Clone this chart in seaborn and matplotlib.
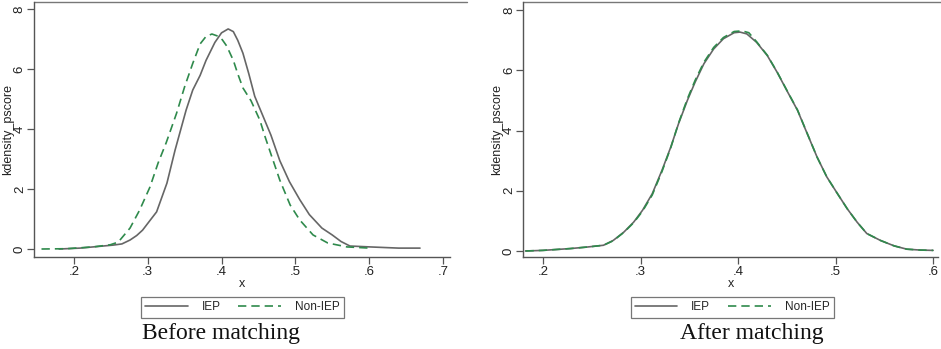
import numpy as np
import pandas as pd
import matplotlib
matplotlib.use("Agg")
import matplotlib.pyplot as plt
import seaborn as sns

# ---- data: kernel density of the propensity score ----
before_iep_x = [0.180, 0.208, 0.253, 0.265, 0.276, 0.285, 0.293, 0.302, 0.312, 0.326,
                0.337, 0.352, 0.361, 0.371, 0.379, 0.391, 0.400, 0.409, 0.416, 0.422,
                0.429, 0.437, 0.445, 0.456, 0.467, 0.479, 0.492, 0.506, 0.519, 0.536,
                0.550, 0.562, 0.574, 0.601, 0.640, 0.669]
before_iep_y = [0.00, 0.03, 0.13, 0.17, 0.30, 0.45, 0.63, 0.92, 1.24, 2.20,
                3.30, 4.64, 5.31, 5.80, 6.30, 6.90, 7.22, 7.35, 7.26, 6.97,
                6.54, 5.85, 5.10, 4.45, 3.80, 2.95, 2.25, 1.65, 1.15, 0.70,
                0.47, 0.25, 0.10, 0.07, 0.03, 0.03]

before_non_x = [0.156, 0.190, 0.226, 0.249, 0.260, 0.276, 0.289, 0.303, 0.314, 0.325,
                0.339, 0.350, 0.361, 0.371, 0.379, 0.387, 0.395, 0.401, 0.407, 0.416,
                0.422, 0.429, 0.440, 0.452, 0.459, 0.466, 0.479, 0.493, 0.506, 0.524,
                0.544, 0.570, 0.601]
before_non_y = [0.00, 0.01, 0.07, 0.14, 0.23, 0.70, 1.30, 2.07, 2.87, 3.55,
                4.53, 5.42, 6.20, 6.85, 7.10, 7.18, 7.11, 6.99, 6.78, 6.30,
                5.85, 5.38, 4.95, 4.30, 3.75, 3.24, 2.30, 1.47, 0.97, 0.47,
                0.20, 0.07, 0.03]

after_iep_x = [0.182, 0.200, 0.228, 0.245, 0.262, 0.272, 0.283, 0.293, 0.302, 0.312,
               0.322, 0.331, 0.339, 0.348, 0.356, 0.365, 0.375, 0.385, 0.396, 0.402,
               0.409, 0.419, 0.430, 0.440, 0.450, 0.461, 0.471, 0.481, 0.491, 0.502,
               0.512, 0.522, 0.532, 0.546, 0.560, 0.573, 0.587, 0.600]
after_iep_y = [0.00, 0.02, 0.08, 0.13, 0.19, 0.35, 0.63, 0.96, 1.35, 1.90,
               2.68, 3.45, 4.23, 5.00, 5.61, 6.22, 6.71, 7.05, 7.25, 7.27,
               7.21, 6.93, 6.49, 5.94, 5.33, 4.67, 3.89, 3.12, 2.46, 1.90,
               1.40, 0.96, 0.58, 0.35, 0.17, 0.06, 0.03, 0.02]

after_non_x = [0.182, 0.200, 0.228, 0.245, 0.262, 0.272, 0.283, 0.293, 0.302, 0.312,
               0.322, 0.331, 0.339, 0.348, 0.356, 0.365, 0.375, 0.385, 0.396, 0.404,
               0.411, 0.419, 0.430, 0.440, 0.450, 0.461, 0.471, 0.481, 0.491, 0.502,
               0.512, 0.522, 0.532, 0.546, 0.560, 0.573, 0.587, 0.600]
after_non_y = [0.00, 0.02, 0.08, 0.13, 0.19, 0.34, 0.62, 0.94, 1.32, 1.86,
               2.64, 3.43, 4.25, 5.05, 5.67, 6.27, 6.76, 7.09, 7.29, 7.31,
               7.25, 6.95, 6.50, 5.95, 5.34, 4.68, 3.90, 3.12, 2.46, 1.90,
               1.40, 0.96, 0.58, 0.35, 0.17, 0.06, 0.03, 0.02]

groups = ["IEP", "Non-IEP"]
panel_titles = ["Before matching", "After matching"]
x_ticks = [[0.2, 0.3, 0.4, 0.5, 0.6, 0.7], [0.2, 0.3, 0.4, 0.5, 0.6]]
y_ticks = [0, 2, 4, 6, 8]


def long_frame(ix, iy, nx, ny):
    a = pd.DataFrame({"x": ix, "density": iy, "group": groups[0]})
    b = pd.DataFrame({"x": nx, "density": ny, "group": groups[1]})
    return pd.concat([a, b], ignore_index=True)


frames = [long_frame(before_iep_x, before_iep_y, before_non_x, before_non_y),
          long_frame(after_iep_x, after_iep_y, after_non_x, after_non_y)]

sns.set_style("ticks")
plt.rcParams["font.family"] = ["Liberation Sans", "DejaVu Sans"]

grey = "#666666"
green = "#2f8a4c"
axis_col = "#555555"
palette = {"IEP": grey, "Non-IEP": green}
dashes = {"IEP": "", "Non-IEP": (5, 3)}

fig = plt.figure(figsize=(9.41, 3.49), dpi=100)
positions = [[0.0361, 0.2636, 0.442, 0.7307], [0.5558, 0.2636, 0.441, 0.7307]]
xlims = [(0.1458, 0.7095), (0.1795, 0.605)]
ylims = [(-0.267, 8.25), (-0.2, 8.27)]
legend_x = [0.2577, 0.778]
title_x = [0.2349, 0.799]

for i, df in enumerate(frames):
    ax = fig.add_axes(positions[i])
    sns.lineplot(data=df, x="x", y="density", hue="group", style="group",
                 palette=palette, dashes=dashes, errorbar=None, linewidth=1.2,
                 ax=ax, legend=False)
    ax.set_xlim(*xlims[i])
    ax.set_ylim(*ylims[i])
    ax.set_xticks(x_ticks[i])
    ax.set_xticklabels(["." + f"{t:.1f}".split(".")[1] for t in x_ticks[i]])
    ax.set_yticks(y_ticks)
    ax.set_yticklabels([str(t) for t in y_ticks], rotation=90,
                       rotation_mode="anchor", ha="center", va="baseline")
    ax.tick_params(axis="x", length=5, width=0.9, color=axis_col,
                   labelsize=9.5, labelcolor="#222222", pad=1.5)
    ax.tick_params(axis="y", length=5, width=0.9, color=axis_col,
                   labelsize=9.5, labelcolor="#222222", pad=3)
    ax.set_xlabel("x", fontsize=9, labelpad=0, color="#222222")
    ax.set_ylabel("kdensity_pscore", fontsize=9, color="#222222")
    ax.yaxis.label.set_verticalalignment("center")
    ax.yaxis.set_label_coords(-26 / (positions[i][2] * 941), 0.5)
    for side in ["left", "bottom"]:
        ax.spines[side].set_color(axis_col)
        ax.spines[side].set_linewidth(1.0)
    ax.spines["right"].set_visible(False)
    ax.spines["top"].set_visible(False)
    # outline of the graph region at the top
    ax.plot([0, 1.04], [1, 1], transform=ax.transAxes, clip_on=False,
            color="#777777", linewidth=1.0)

    handles = [plt.Line2D([], [], color=grey, lw=1.2),
               plt.Line2D([], [], color=green, lw=1.2, dashes=(5, 3))]
    leg = fig.legend(handles, groups, loc="center", ncol=2,
                     bbox_to_anchor=(legend_x[i], 0.119), fontsize=8.5,
                     frameon=True, fancybox=False, handlelength=3.6,
                     columnspacing=1.5, handletextpad=1.2, borderpad=0.35)
    leg.get_frame().set_edgecolor("#555555")
    leg.get_frame().set_linewidth(0.9)

    fig.text(title_x[i], 0.043, panel_titles[i], ha="center", va="center",
             fontsize=17, family=["Liberation Serif", "DejaVu Serif"], color="#111111")

fig.savefig("out.png", dpi=100)
